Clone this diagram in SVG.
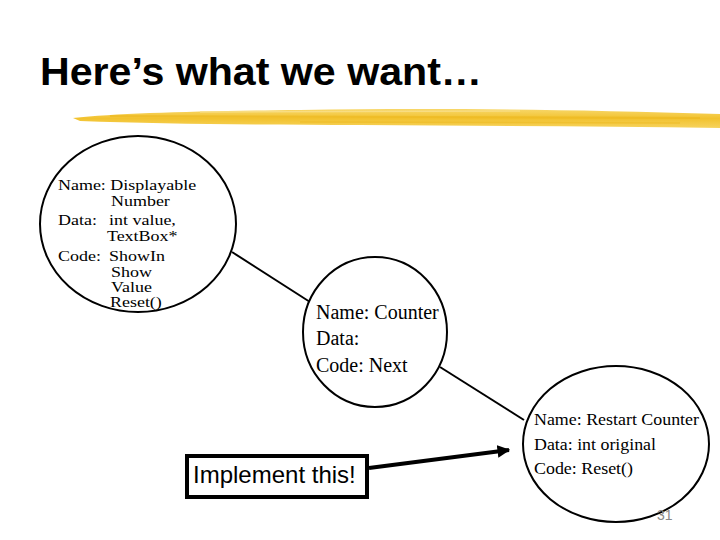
<svg xmlns="http://www.w3.org/2000/svg" width="720" height="540" viewBox="0 0 720 540">
<defs>
<linearGradient id="brush" x1="0" y1="0" x2="0" y2="1">
<stop offset="0" stop-color="#F7D76A"/>
<stop offset="0.5" stop-color="#F2C22E"/>
<stop offset="1" stop-color="#F6D35E"/>
</linearGradient>
<marker id="arr" viewBox="0 0 10 10" refX="9" refY="5" markerWidth="3.2" markerHeight="3.2" orient="auto" markerUnits="strokeWidth">
<path d="M0,0 L10,5 L0,10 z" fill="#000"/>
</marker>
</defs>
<style>
.node{fill:#fff;stroke:#000;stroke-width:2}
.t{font-family:"Liberation Serif","Times New Roman",serif;font-size:15.5px;fill:#000}
.t20{font-family:"Liberation Serif","Times New Roman",serif;font-size:20px;fill:#000}
.t16{font-family:"Liberation Serif","Times New Roman",serif;font-size:16px;fill:#000}
.conn{stroke:#000;stroke-width:2;fill:none}
</style>
<rect width="720" height="540" fill="#fff"/>
<text x="40" y="85" font-family="Liberation Sans, Arial, sans-serif" font-weight="bold" font-size="38" textLength="442" lengthAdjust="spacingAndGlyphs" fill="#000">Here’s what we want…</text>
<g id="brushstroke">
<path d="M73,118 C120,113 200,111 300,110 C420,108 560,109 720,114 L720,128 C600,126 480,126 360,125 C260,125 160,124 80,121 Z" fill="url(#brush)"/>
<path d="M110,116 L700,118" stroke="#EDB81E" stroke-width="2" opacity="0.6"/>
<path d="M200,112 L520,111" stroke="#F9E08C" stroke-width="1.5" opacity="0.8"/>
<path d="M300,122 L680,123" stroke="#EDB81E" stroke-width="1.5" opacity="0.5"/>
</g>
<g id="connectors">
<line class="conn" x1="232" y1="252" x2="310" y2="302"/>
<line class="conn" x1="440" y1="367" x2="524" y2="420"/>
<line x1="369" y1="468" x2="509" y2="450" stroke="#000" stroke-width="4" marker-end="url(#arr)"/>
</g>
<g id="displayable">
<ellipse class="node" cx="138" cy="224" rx="98" ry="88"/>
<g transform="matrix(1.16 0 0 1 -9.28 0)">
<text class="t" x="58" y="190">Name: Displayable</text>
<text class="t" x="103.7" y="206">Number</text>
<text class="t" x="58" y="225">Data:</text>
<text class="t" x="102" y="225">int value,</text>
<text class="t" x="100.2" y="241">TextBox*</text>
<text class="t" x="58" y="261">Code:</text>
<text class="t" x="102" y="261">ShowIn</text>
<text class="t" x="103.7" y="277">Show</text>
<text class="t" x="103.7" y="292">Value</text>
<text class="t" x="102.8" y="307">Reset()</text>
</g>
</g>
<g id="counter">
<ellipse class="node" cx="375" cy="332" rx="72" ry="75"/>
<text class="t20" x="316" y="319">Name: Counter</text>
<text class="t20" x="316" y="345">Data:</text>
<text class="t20" x="316" y="372">Code: Next</text>
</g>
<g id="restart">
<ellipse class="node" cx="616" cy="444" rx="93" ry="78"/>
<text class="t16" x="534" y="425" textLength="165" lengthAdjust="spacingAndGlyphs">Name: Restart Counter</text>
<text class="t16" x="534" y="450" textLength="122" lengthAdjust="spacingAndGlyphs">Data: int original</text>
<text class="t16" x="534" y="474" textLength="99" lengthAdjust="spacingAndGlyphs">Code: Reset()</text>
</g>
<g id="implement">
<rect x="187" y="456" width="180" height="41" fill="#fff" stroke="#000" stroke-width="4"/>
<text x="193" y="483" font-family="Liberation Sans, Arial, sans-serif" font-size="24" fill="#000">Implement this!</text>
</g>
<text x="657" y="520" font-family="Liberation Sans, Arial, sans-serif" font-size="14" fill="#888">31</text>
</svg>
